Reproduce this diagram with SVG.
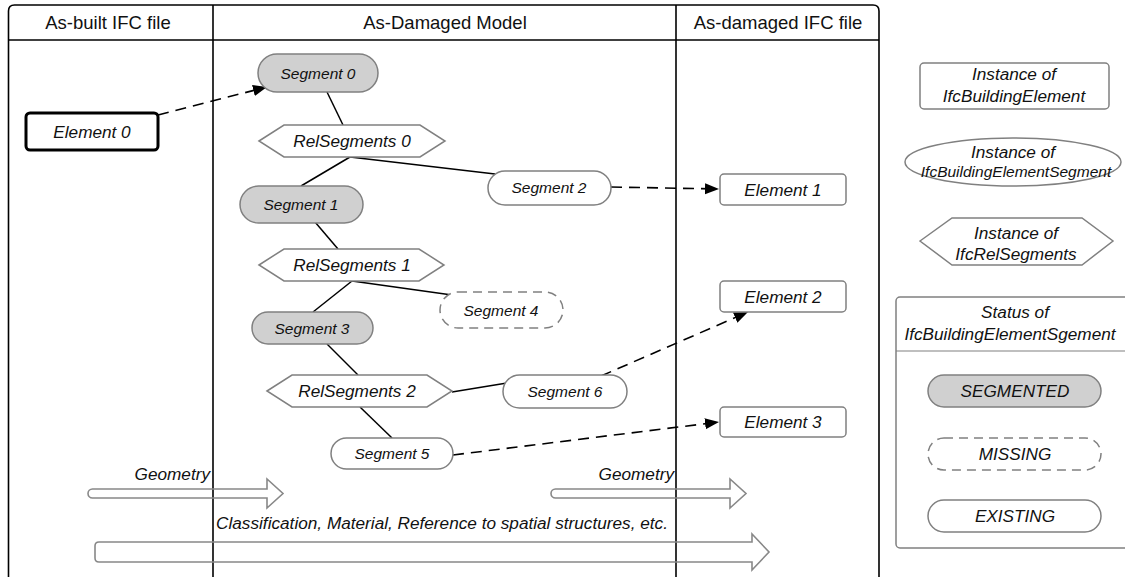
<svg xmlns="http://www.w3.org/2000/svg" width="1125" height="577" viewBox="0 0 1125 577">
<style>
text{font-family:"Liberation Sans",Arial,sans-serif;fill:#111;text-anchor:middle;dominant-baseline:central}
.it{font-style:italic}
.f17{font-size:17.2px}
.f15{font-size:15.5px}
.hd{font-size:18.5px}
.node{stroke:#808080;stroke-width:1.5;fill:#fff}
.seg{fill:#d0d0d0}
.miss{stroke-dasharray:9 6}
.pool{stroke:#000;stroke-width:1.6;fill:none}
.ln{stroke:#000;stroke-width:1.5;fill:none}
.dash{stroke:#000;stroke-width:1.6;fill:none;stroke-dasharray:11 7}
.blk{stroke:#888;stroke-width:1.6;fill:none}
</style>
<defs>
<marker id="ah" viewBox="0 0 10 10" refX="10" refY="5" markerWidth="14" markerHeight="14" markerUnits="userSpaceOnUse" orient="auto">
<path d="M0,1 L10,5 L0,9 Z" fill="#000"/>
</marker>
</defs>
<rect width="1125" height="577" fill="#fff"/>
<g id="pool">
<path class="pool" d="M8.5,580 V11 Q8.5,5 14.5,5 H873 Q879,5 879,11 V580"/>
<line class="pool" x1="8.5" y1="40" x2="879" y2="40"/>
<line class="pool" x1="213" y1="5" x2="213" y2="580"/>
<line class="pool" x1="676" y1="5" x2="676" y2="580"/>
<text class="hd" x="108" y="22">As-built IFC file</text>
<text class="hd" x="445" y="22">As-Damaged Model</text>
<text class="hd" x="778" y="22">As-damaged IFC file</text>
</g>
<g id="flows">
<path class="blk" d="M92.5,489 H267 V479 L283,493.5 L267,508 V498 H92.5 A4.5,4.5 0 0 1 92.5,489 Z"/>
<text class="it f17" x="210" y="474" style="text-anchor:end">Geometry</text>
<path class="blk" d="M555.5,489 H730 V479 L746,493.5 L730,508 V498 H555.5 A4.5,4.5 0 0 1 555.5,489 Z"/>
<text class="it f17" x="674" y="474" style="text-anchor:end">Geometry</text>
<path class="blk" d="M99,542 H752 V534 L769,552 L752,570 V562 H99 Q95,562 95,558 V546 Q95,542 99,542 Z"/>
<text class="it f17" x="442" y="523">Classification, Material, Reference to spatial structures, etc.</text>
</g>
<g id="connectors">
<line class="ln" x1="327" y1="92" x2="343" y2="125"/>
<line class="ln" x1="350" y1="157" x2="301" y2="186"/>
<line class="ln" x1="350" y1="157" x2="495" y2="174"/>
<line class="ln" x1="315" y1="222" x2="338" y2="249"/>
<line class="ln" x1="352" y1="281" x2="313" y2="312"/>
<line class="ln" x1="352" y1="281" x2="452" y2="295"/>
<line class="ln" x1="327" y1="344" x2="358" y2="375"/>
<line class="ln" x1="452" y1="392" x2="507" y2="383"/>
<line class="ln" x1="360" y1="407" x2="392" y2="438"/>
<path class="dash" d="M158,115 L267,87" marker-end="url(#ah)"/>
<path class="dash" d="M611,187 L719,189" marker-end="url(#ah)"/>
<path class="dash" d="M601,376 L748,312" marker-end="url(#ah)"/>
<path class="dash" d="M453,455 L719,422" marker-end="url(#ah)"/>
</g>
<g id="element0">
<rect x="26" y="113" width="132" height="37" rx="4" fill="#fff" stroke="#000" stroke-width="3"/>
<text class="it f17" x="92" y="131.5">Element 0</text>
</g>
<g id="segment0">
<rect class="node seg" x="258" y="54" width="120" height="38" rx="19"/>
<text class="it f15" x="318" y="73">Segment 0</text>
</g>
<g id="relsegments0">
<polygon class="node" points="259,141 284,125 420,125 445,141 420,157 284,157"/>
<text class="it f17" x="352" y="141">RelSegments 0</text>
</g>
<g id="segment1">
<rect class="node seg" x="240" y="186" width="123" height="37" rx="18.5"/>
<text class="it f15" x="301" y="204">Segment 1</text>
</g>
<g id="segment2">
<rect class="node" x="488" y="171" width="123" height="34" rx="17"/>
<text class="it f15" x="549" y="187">Segment 2</text>
</g>
<g id="relsegments1">
<polygon class="node" points="259,265 284,249 419,249 444,265 419,281 284,281"/>
<text class="it f17" x="352" y="265">RelSegments 1</text>
</g>
<g id="segment4">
<rect class="node miss" x="440" y="292" width="123" height="36" rx="18"/>
<text class="it f15" x="501" y="310">Segment 4</text>
</g>
<g id="segment3">
<rect class="node seg" x="252" y="312" width="121" height="32" rx="16"/>
<text class="it f15" x="312" y="328">Segment 3</text>
</g>
<g id="relsegments2">
<polygon class="node" points="267,391 292,375 427,375 452,391 427,407 292,407"/>
<text class="it f17" x="357" y="391">RelSegments 2</text>
</g>
<g id="segment6">
<rect class="node" x="503" y="375" width="124" height="33" rx="16.5"/>
<text class="it f15" x="565" y="391">Segment 6</text>
</g>
<g id="segment5">
<rect class="node" x="331" y="438" width="122" height="31" rx="15.5"/>
<text class="it f15" x="392" y="453">Segment 5</text>
</g>
<g id="element1">
<rect class="node" x="720" y="174" width="126" height="31" rx="4"/>
<text class="it f17" x="783" y="190">Element 1</text>
</g>
<g id="element2">
<rect class="node" x="720" y="281" width="126" height="31" rx="4"/>
<text class="it f17" x="783" y="296.5">Element 2</text>
</g>
<g id="element3">
<rect class="node" x="720" y="407" width="126" height="30" rx="4"/>
<text class="it f17" x="783" y="422">Element 3</text>
</g>
<g id="legend-element">
<rect class="node" x="920" y="63" width="189" height="46" rx="4"/>
<text class="it f17" x="1014" y="74">Instance of</text>
<text class="it f17" x="1014" y="96">IfcBuildingElement</text>
</g>
<g id="legend-segment">
<ellipse class="node" cx="1013" cy="162" rx="108" ry="24"/>
<text class="it f17" x="1013" y="152">Instance of</text>
<text class="it f15" x="1016" y="171">IfcBuildingElementSegment</text>
</g>
<g id="legend-rel">
<polygon class="node" points="920,241 952,218 1082,218 1113,241 1082,265 952,265"/>
<text class="it f17" x="1016" y="233">Instance of</text>
<text class="it f17" x="1016" y="254">IfcRelSegments</text>
</g>
<g id="legend-status">
<rect class="node" x="896" y="297" width="240" height="251" rx="4"/>
<line x1="896" y1="351" x2="1125" y2="351" stroke="#808080" stroke-width="1.2"/>
<text class="it f17" x="1015" y="312">Status of</text>
<text class="it f17" x="1010" y="334">IfcBuildingElementSgement</text>
<rect class="node seg" x="928" y="375" width="173" height="32" rx="16"/>
<text class="it f17" x="1015" y="391">SEGMENTED</text>
<rect class="node miss" x="928" y="438" width="173" height="32" rx="16"/>
<text class="it f17" x="1015" y="454">MISSING</text>
<rect class="node" x="928" y="500" width="173" height="32" rx="16"/>
<text class="it f17" x="1015" y="516">EXISTING</text>
</g>
</svg>
